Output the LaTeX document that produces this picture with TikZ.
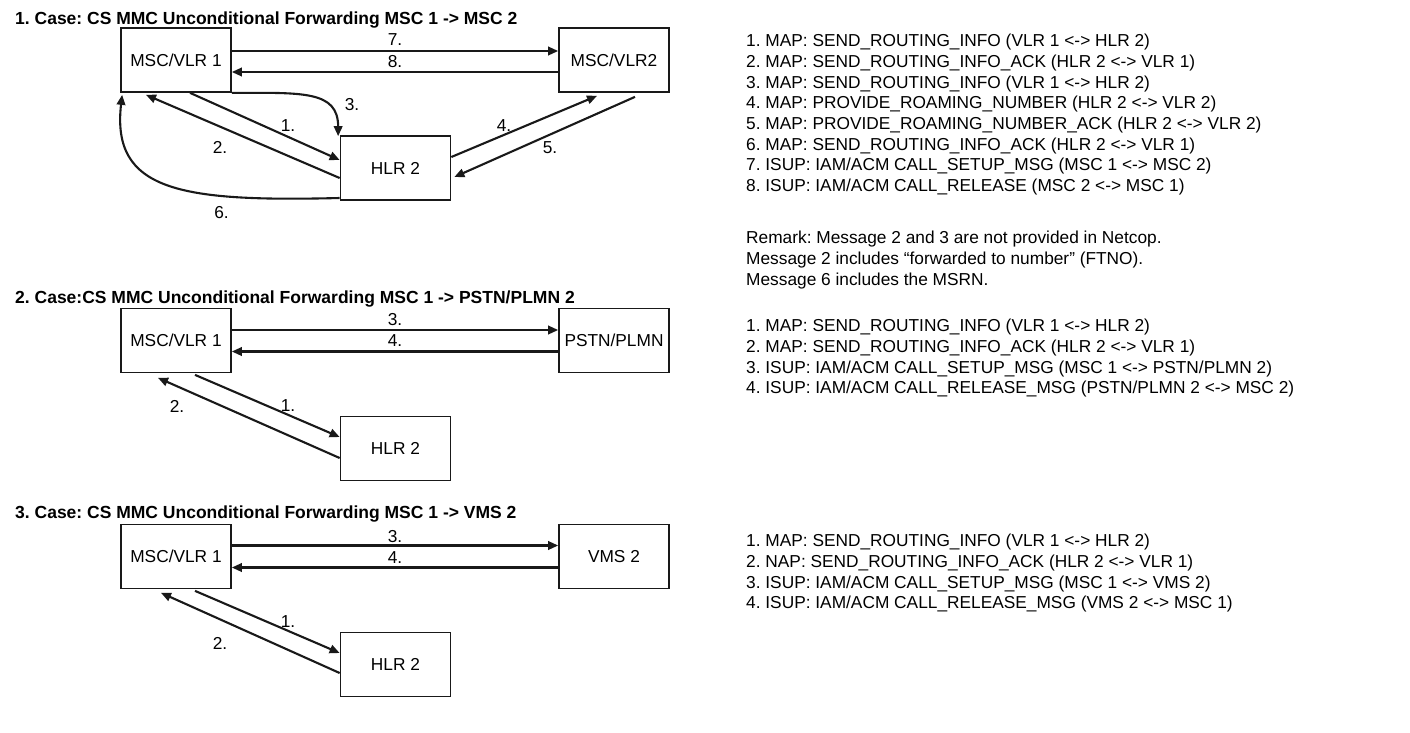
\documentclass[tikz,border=0pt]{standalone}
\usepackage{fontspec}
\setmainfont{Liberation Sans}
\usetikzlibrary{arrows.meta,calc}
\frenchspacing
\begin{document}
\begin{tikzpicture}[x=1pt,y=-1pt,
  box/.style={draw=black!90, line width=1.7pt, minimum width=110pt, minimum height=64pt,
    inner sep=0pt, font=\fontsize{17.3}{20.7}\selectfont},
  msg/.style={draw=black!90, line width=2.1pt, -{Triangle[length=10pt,width=8.5pt]}},
  num/.style={inner sep=0pt, font=\fontsize{17.3}{20.7}\selectfont},
  casetitle/.style={anchor=base west, inner sep=0pt, font=\bfseries\fontsize{17.5}{21}\selectfont},
  listline/.style={anchor=base west, inner sep=0pt, font=\fontsize{17.3}{20.7}\selectfont}]

\fill[white] (0,0) rectangle (1410,732);
\useasboundingbox (0,0) rectangle (1410,732);

% ---------------- Case 1 ----------------
\node[casetitle] (title1) at (15,24) {1. Case: CS MMC Unconditional Forwarding MSC 1 -> MSC 2};
\node[box] (am) at (176,60) {MSC/VLR 1};
\node[box] (an) at (614,60) {MSC/VLR2};
\node[box] (ah) at (395.5,168) {HLR 2};

\draw[msg] ([yshift=9pt]am.east) -- ([yshift=9pt]an.west);
\draw[msg] ([yshift=-12pt]an.west) -- ([yshift=-12pt]am.east);
\draw[msg] ([xshift=14pt]am.south) -- ([yshift=8pt]ah.west);
\draw[msg] ([yshift=-10pt]ah.west) -- ([xshift=-30pt,yshift=-2pt]am.south);
\draw[msg] (am.south east) .. controls ($(am.south east)+(70,0)$) and ($(ah.north west)+(-1.5,-45)$)
  .. ([xshift=-1.5pt,yshift=-1pt]ah.north west);
\draw[msg] ([yshift=-30pt]ah.west) .. controls ($(ah.west)+(-160,34)$) and ($(am.south west)+(-9,98)$)
  .. ([xshift=2pt,yshift=-2pt]am.south west);
\draw[msg] ([yshift=11pt]ah.east) -- ([xshift=-17pt,yshift=-3pt]an.south);
\draw[msg] ([xshift=21pt,yshift=-4pt]an.south) -- ([xshift=3pt,yshift=-9pt]ah.east);

\node[num] (a7) at (395,40) {7.};
\node[num] (a8) at (395,62) {8.};
\node[num] (a3) at (352,105) {3.};
\node[num] (a1) at (288,126) {1.};
\node[num] (a2) at (220,147.5) {2.};
\node[num] (a6) at (221.5,212.5) {6.};
\node[num] (a4) at (504,126) {4.};
\node[num] (a5) at (550,147.5) {5.};

\node[listline] (l11) at (746,46.7)  {1. MAP: SEND\_ROUTING\_INFO (VLR 1 <-> HLR 2)};
\node[listline] (l12) at (746,67.4)  {2. MAP: SEND\_ROUTING\_INFO\_ACK (HLR 2 <-> VLR 1)};
\node[listline] (l13) at (746,88.1)  {3. MAP: SEND\_ROUTING\_INFO (VLR 1 <-> HLR 2)};
\node[listline] (l14) at (746,108.8) {4. MAP: PROVIDE\_ROAMING\_NUMBER (HLR 2 <-> VLR 2)};
\node[listline] (l15) at (746,129.5) {5. MAP: PROVIDE\_ROAMING\_NUMBER\_ACK (HLR 2 <-> VLR 2)};
\node[listline] (l16) at (746,150.2) {6. MAP: SEND\_ROUTING\_INFO\_ACK (HLR 2 <-> VLR 1)};
\node[listline] (l17) at (746,170.9) {7. ISUP: IAM/ACM CALL\_SETUP\_MSG (MSC 1 <-> MSC 2)};
\node[listline] (l18) at (746,191.6) {8. ISUP: IAM/ACM CALL\_RELEASE (MSC 2 <-> MSC 1)};
\node[listline] (r1) at (746,243.5) {Remark: Message 2 and 3 are not provided in Netcop.};
\node[listline] (r2) at (746,264.5) {Message 2 includes ``forwarded to number'' (FTNO).};
\node[listline] (r3) at (746,285.5) {Message 6 includes the MSRN.};

% ---------------- Case 2 ----------------
\node[casetitle] (title2) at (15,303.3) {2. Case:CS MMC Unconditional Forwarding MSC 1 -> PSTN/PLMN 2};
\node[box] (bm) at (176,340.5) {MSC/VLR 1};
\node[box] (bp) at (614,340.5) {PSTN/PLMN};
\node[box] (bh) at (395.5,448.5) {HLR 2};

\draw[msg] ([yshift=10.5pt]bm.east) -- ([yshift=10.5pt]bp.west);
\draw[msg] ([yshift=-11pt]bp.west) -- ([yshift=-11pt]bm.east);
\draw[msg] ([xshift=19pt,yshift=-1.5pt]bm.south) -- ([yshift=11.5pt]bh.west);
\draw[msg] ([yshift=-9.5pt]bh.west) -- ([xshift=-18pt,yshift=-4.5pt]bm.south);

\node[num] (b3) at (395,319.5) {3.};
\node[num] (b4) at (395,341) {4.};
\node[num] (b1) at (288,406) {1.};
\node[num] (b2) at (177,406) {2.};

\node[listline] (l21) at (746,331.7) {1. MAP: SEND\_ROUTING\_INFO (VLR 1 <-> HLR 2)};
\node[listline] (l22) at (746,352.4) {2. MAP: SEND\_ROUTING\_INFO\_ACK (HLR 2 <-> VLR 1)};
\node[listline] (l23) at (746,373.1) {3. ISUP: IAM/ACM CALL\_SETUP\_MSG (MSC 1 <-> PSTN/PLMN 2)};
\node[listline] (l24) at (746,393.8) {4. ISUP: IAM/ACM CALL\_RELEASE\_MSG (PSTN/PLMN 2 <-> MSC 2)};

% ---------------- Case 3 ----------------
\node[casetitle] (title3) at (15,518.3) {3. Case: CS MMC Unconditional Forwarding MSC 1 -> VMS 2};
\node[box] (cm) at (176,556.5) {MSC/VLR 1};
\node[box] (cv) at (614,556.5) {VMS 2};
\node[box] (ch) at (395.5,664.5) {HLR 2};

\draw[msg] ([yshift=11pt]cm.east) -- ([yshift=11pt]cv.west);
\draw[msg] ([yshift=-11pt]cv.west) -- ([yshift=-11pt]cm.east);
\draw[msg] ([xshift=19pt,yshift=-1.5pt]cm.south) -- ([yshift=11.5pt]ch.west);
\draw[msg] ([yshift=-8.5pt]ch.west) -- ([xshift=-15pt,yshift=-3.5pt]cm.south);

\node[num] (c3) at (395,536.7) {3.};
\node[num] (c4) at (395,558) {4.};
\node[num] (c1) at (288,621.5) {1.};
\node[num] (c2) at (220,643) {2.};

\node[listline] (l31) at (746,546.7) {1. MAP: SEND\_ROUTING\_INFO (VLR 1 <-> HLR 2)};
\node[listline] (l32) at (746,567.4) {2. NAP: SEND\_ROUTING\_INFO\_ACK (HLR 2 <-> VLR 1)};
\node[listline] (l33) at (746,588.1) {3. ISUP: IAM/ACM CALL\_SETUP\_MSG (MSC 1 <-> VMS 2)};
\node[listline] (l34) at (746,608.8) {4. ISUP: IAM/ACM CALL\_RELEASE\_MSG (VMS 2 <-> MSC 1)};

\end{tikzpicture}
\end{document}
